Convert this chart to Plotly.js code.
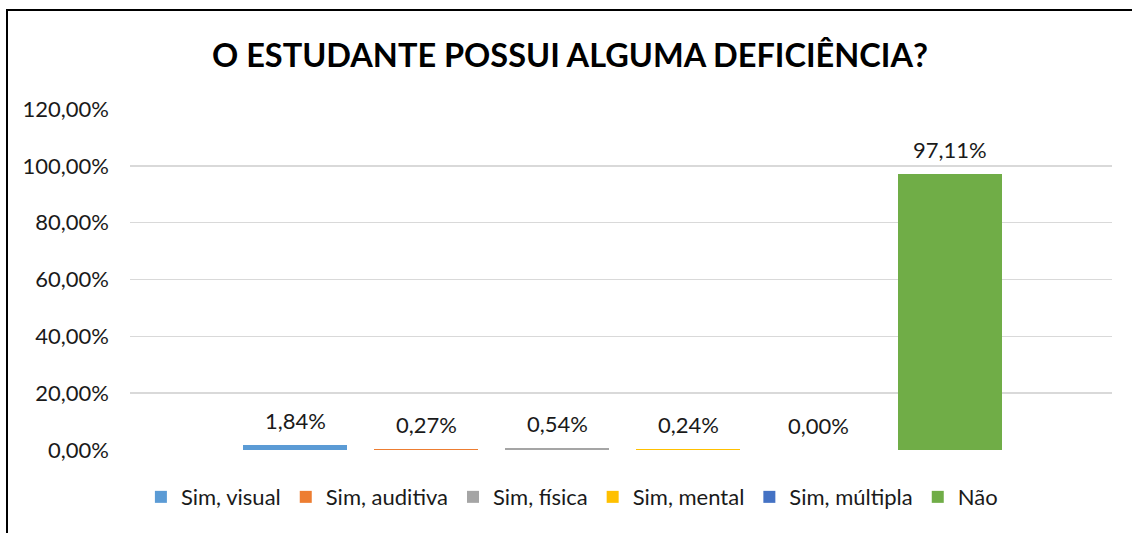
<!DOCTYPE html>
<html><head><meta charset="utf-8">
<script src="https://cdn.plot.ly/plotly-3.0.1.min.js"></script>
<style>
html,body{margin:0;padding:0;background:#fff;width:1132px;height:533px;overflow:hidden}
#frame{position:absolute;left:6px;top:9px;width:1126px;height:524px;border-left:2px solid #000;border-top:2px solid #000;box-sizing:border-box}
#chart{position:absolute;left:0;top:0;width:1124px;height:522px}
</style></head>
<body>
<div id="frame"><div id="chart"></div></div>
<script>
const categories = ['Sim, visual','Sim, auditiva','Sim, física','Sim, mental','Sim, múltipla','Não'];
const values = [1.84, 0.27, 0.54, 0.24, 0.00, 97.11];
const colors = ['#5B9BD5','#ED7D31','#A5A5A5','#FFC000','#4472C4','#70AD47'];
const yTicks = [0,20,40,60,80,100,120];
const yTickLabels = ['0,00%','20,00%','40,00%','60,00%','80,00%','100,00%','120,00%'];

const font = 'Lato, "Open Sans", sans-serif';
const traces = categories.map((c,i)=>({
  type:'bar', name:c, x:[i], y:[values[i]], width:0.794,
  marker:{color:colors[i]}, hoverinfo:'skip'
}));
const annotations = categories.map((c,i)=>({
  x:i, y:values[i], xref:'x', yref:'y', yanchor:'bottom', yshift:9,
  text: values[i].toFixed(2).replace('.',',') + '%', showarrow:false,
  font:{family:font,size:22,color:'#1a1a1a'}
}));

Plotly.newPlot('chart', traces, {
  width:1124, height:522,
  margin:{l:122,r:20,t:98,b:83},
  paper_bgcolor:'#fff', plot_bgcolor:'#fff',
  title:{text:'<b>O ESTUDANTE POSSUI ALGUMA DEFICIÊNCIA?</b>', x:0.5, xanchor:'center', y:0.915, yanchor:'middle',
    font:{family:font,size:32.5,color:'#000'}},
  showlegend:true,
  legend:{orientation:'h', x:0.45, xanchor:'center', y:-0.138, yanchor:'middle',
    font:{family:font,size:22,color:'#1a1a1a'}, itemclick:false, traceorder:'normal', itemwidth:30},
  xaxis:{range:[-1.26,6.237], visible:false, fixedrange:true},
  yaxis:{range:[0,120], tickmode:'array', tickvals:yTicks, ticktext:yTickLabels,
    showgrid:true, gridcolor:'#d9d9d9', gridwidth:1.5, zeroline:false, showline:false,
    ticks:'', ticklabelstandoff:20,
    tickfont:{family:font,size:22,color:'#1a1a1a'}, fixedrange:true},
  annotations:annotations,
  bargap:0
}, {displayModeBar:false, staticPlot:true});
</script>
</body></html>
